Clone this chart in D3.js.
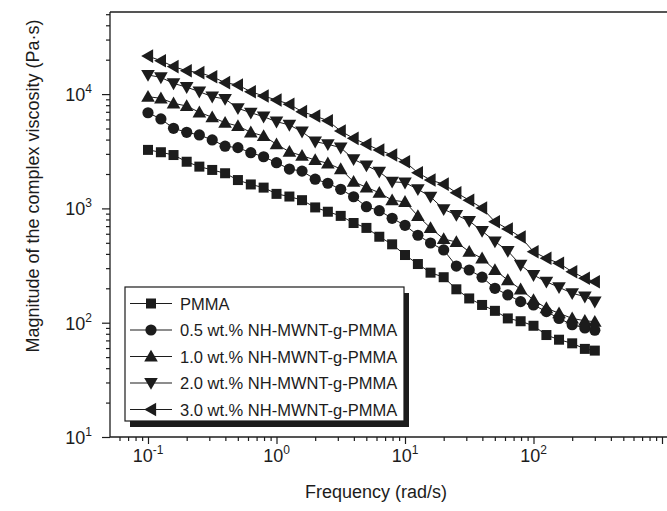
<!DOCTYPE html>
<html>
<head>
<meta charset="utf-8">
<script src="https://cdn.jsdelivr.net/npm/d3@7"></script>
<style>
  html, body { margin: 0; padding: 0; background: #fff; }
  svg { display: block; font-family: "Liberation Sans", Arial, sans-serif; }
</style>
</head>
<body>
<svg id="chart" width="667" height="511"></svg>
<script>
// ---- data ----
const frequency = [0.1, 0.126, 0.158, 0.2, 0.251, 0.316, 0.398, 0.501, 0.631, 0.794,
  1, 1.26, 1.58, 2, 2.51, 3.16, 3.98, 5.01, 6.31, 7.94,
  10, 12.6, 15.8, 20, 25.1, 31.6, 39.8, 50.1, 63.1, 79.4,
  100, 126, 158, 200, 251, 300];

const pmma = [3250, 3100, 2930, 2560, 2320, 2170, 2030, 1770, 1620, 1520,
  1340, 1270, 1180, 1020, 935, 860, 745, 675, 565, 485,
  391, 326, 274, 250, 196, 163, 143, 127, 109, 103,
  94, 78, 71, 66, 59, 57];

const wt05 = [6870, 6060, 5020, 4630, 4390, 3970, 3500, 3400, 3070, 2830,
  2510, 2210, 2120, 1800, 1660, 1470, 1265, 1035, 955, 819,
  711, 582, 498, 433, 313, 289, 250, 200, 175, 153,
  143, 125, 109, 96, 90, 86];

const wt10 = [9490, 9190, 8310, 7870, 6930, 6270, 5620, 5260, 4630, 4300,
  3640, 3130, 2890, 2650, 2480, 2210, 1710, 1530, 1370, 1180,
  1140, 859, 674, 540, 508, 418, 366, 289, 236, 196,
  158, 134, 121, 109, 104, 102];

const wt20 = [14700, 14000, 12400, 11500, 10500, 9490, 9060, 7510, 6870, 6340,
  5740, 5370, 4690, 3840, 3640, 3400, 2690, 2370, 2090, 1710,
  1680, 1470, 1265, 982, 875, 776, 634, 513, 424, 320,
  261, 228, 204, 181, 169, 153];

const wt30 = [21500, 19600, 17400, 16000, 15400, 14200, 12600, 12000, 10500, 9620,
  8880, 8150, 7020, 6430, 5850, 4750, 4100, 3640, 3240, 2930,
  2560, 2050, 1770, 1630, 1370, 1180, 1007, 765, 661, 562,
  418, 366, 331, 279, 245, 228];

const seriesNames = ["PMMA", "0.5 wt.% NH-MWNT-g-PMMA", "1.0 wt.% NH-MWNT-g-PMMA",
  "2.0 wt.% NH-MWNT-g-PMMA", "3.0 wt.% NH-MWNT-g-PMMA"];
const seriesValues = [pmma, wt05, wt10, wt20, wt30];
const seriesMarkers = ["square", "circle", "triangleUp", "triangleDown", "triangleLeft"];

const xMajorTicks = [0.1, 1, 10, 100];
const xMajorExp = ["-1", "0", "1", "2"];
const yMajorTicks = [10, 100, 1000, 10000];
const yMajorExp = ["1", "2", "3", "4"];

const xTitle = "Frequency (rad/s)";
const yTitle = "Magnitude of the complex viscosity (Pa\u00B7s)";

// ---- layout ----
const svg = d3.select("#chart");
const pLeft = 110, pTop = 12, pBottom = 437, pRight = 720;
const decX = 128.5;
const x = d3.scaleLog().domain([0.1, 1000]).range([148, 148 + 4 * decX]);
const y = d3.scaleLog().domain([10, 10000]).range([pBottom, pBottom - 3 * 114.3]);
const ink = "#1c1c1c";

function logTicks(lo, hi) {
  const out = [];
  for (let e = Math.floor(Math.log10(lo)); e <= Math.ceil(Math.log10(hi)); e++) {
    for (let m = 1; m <= 9; m++) {
      const v = m * Math.pow(10, e);
      if (v >= lo * 0.999 && v <= hi * 1.001) out.push(v);
    }
  }
  return out;
}
const xLo = x.invert(pLeft), xHi = x.invert(pRight);
const yHi = y.invert(pTop);
const isMajor = v => Math.abs(Math.log10(v) - Math.round(Math.log10(v))) < 1e-6;

const gx = svg.append("g").attr("transform", `translate(0,${pBottom})`);
gx.call(d3.axisBottom(x).tickValues(logTicks(xLo, xHi)).tickSize(4).tickFormat(""));
gx.select(".domain").remove();
gx.selectAll(".tick line").attr("stroke", ink).attr("stroke-width", 1.2)
  .attr("y2", d => isMajor(d) ? 7 : 4);

const gy = svg.append("g").attr("transform", `translate(${pLeft},0)`);
gy.call(d3.axisLeft(y).tickValues(logTicks(10, yHi)).tickSize(4).tickFormat(""));
gy.select(".domain").remove();
gy.selectAll(".tick line").attr("stroke", ink).attr("stroke-width", 1.2)
  .attr("x2", d => isMajor(d) ? -8 : -4);

// frame
[[pLeft, pBottom, pRight, pBottom], [pLeft, pTop, pRight, pTop], [pLeft, pTop, pLeft, pBottom]]
  .forEach(l => svg.append("line").attr("x1", l[0]).attr("y1", l[1]).attr("x2", l[2]).attr("y2", l[3])
    .attr("stroke", ink).attr("stroke-width", 1.3));

// tick labels
xMajorTicks.forEach((v, i) => {
  const t = svg.append("text").attr("x", x(v)).attr("y", pBottom + 25)
    .attr("text-anchor", "middle").attr("font-size", 18).attr("fill", ink);
  t.append("tspan").text("10");
  t.append("tspan").attr("dy", -8).attr("font-size", 12).text(xMajorExp[i]);
});
yMajorTicks.forEach((v, i) => {
  const t = svg.append("text").attr("x", pLeft - 18).attr("y", y(v) + 7)
    .attr("text-anchor", "end").attr("font-size", 18).attr("fill", ink);
  t.append("tspan").text("10");
  t.append("tspan").attr("dy", -8).attr("font-size", 12).text(yMajorExp[i]);
});

// titles
svg.append("text").attr("x", 376).attr("y", 498).attr("text-anchor", "middle")
  .attr("font-size", 18).attr("fill", ink).text(xTitle);
svg.append("text").attr("transform", "translate(39,186) rotate(-90)")
  .attr("text-anchor", "middle").attr("font-size", 18).attr("fill", ink).text(yTitle);

// markers
function drawMarker(g, type, cx, cy) {
  if (type === "square") {
    g.append("rect").attr("x", cx - 5).attr("y", cy - 5).attr("width", 10).attr("height", 10).attr("fill", ink);
  } else if (type === "circle") {
    g.append("circle").attr("cx", cx).attr("cy", cy).attr("r", 5.6).attr("fill", ink);
  } else {
    let pts;
    const a = 6.8;
    if (type === "triangleUp") pts = [[cx, cy - a], [cx - a, cy + a * 0.75], [cx + a, cy + a * 0.75]];
    else if (type === "triangleDown") pts = [[cx, cy + a], [cx - a, cy - a * 0.75], [cx + a, cy - a * 0.75]];
    else pts = [[cx - a, cy], [cx + a * 0.75, cy - a], [cx + a * 0.75, cy + a]];
    g.append("polygon").attr("points", pts.map(p => p.join(",")).join(" ")).attr("fill", ink);
  }
}

const line = d3.line().x(d => x(d[0])).y(d => y(d[1]));
seriesValues.forEach((vals, si) => {
  const pts = frequency.map((f, i) => [f, vals[i]]);
  const g = svg.append("g");
  g.append("path").attr("d", line(pts)).attr("fill", "none").attr("stroke", ink).attr("stroke-width", 1);
  pts.forEach(p => drawMarker(g, seriesMarkers[si], x(p[0]), y(p[1])));
});

// legend
const lg = svg.append("g");
const lx = 125, ly = 287, lw = 279, lh = 134;
lg.append("rect").attr("x", lx + 5).attr("y", ly + 6).attr("width", lw).attr("height", lh).attr("fill", ink);
lg.append("rect").attr("x", lx).attr("y", ly).attr("width", lw).attr("height", lh)
  .attr("fill", "#fff").attr("stroke", ink).attr("stroke-width", 1.2);
seriesNames.forEach((name, i) => {
  const ry = ly + 16.5 + i * 26.5;
  lg.append("line").attr("x1", lx + 5).attr("x2", lx + 47).attr("y1", ry).attr("y2", ry)
    .attr("stroke", ink).attr("stroke-width", 1.2);
  drawMarker(lg, seriesMarkers[i], lx + 26, ry);
  lg.append("text").attr("x", lx + 55).attr("y", ry + 6).attr("font-size", 16.5).attr("fill", ink).text(name);
});
</script>
</body>
</html>
